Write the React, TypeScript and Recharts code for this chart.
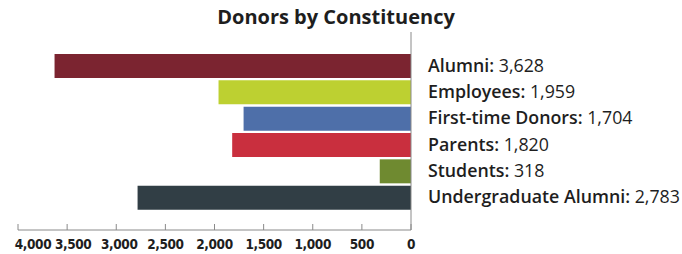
import { BarChart, Bar, XAxis, YAxis, Cell } from 'recharts';

const categories = ['Alumni', 'Employees', 'First-time Donors', 'Parents', 'Students', 'Undergraduate Alumni'];
const donors = [3628, 1959, 1704, 1820, 318, 2783];
const barColors = ['#7b2430', '#bdd031', '#4e6fa9', '#c92f3e', '#6f8a30', '#313e45'];
const xTicks = [0, 500, 1000, 1500, 2000, 2500, 3000, 3500, 4000];

const data = categories.map((name, i) => ({ name, value: donors[i] }));

const fmt = (v: number) => v.toLocaleString('en-US');

// Right-hand labels: bold name, plain value
const NameTick = ({ x, y, payload }: any) => {
    const v = donors[categories.indexOf(payload.value)];
    return (
        <text x={x + 17} y={y} dy={5.5} fontFamily="'Open Sans', sans-serif" fontSize={17.8} fill="#1e1e1e">
            <tspan fontWeight={600}>{payload.value}:</tspan>
            <tspan fontWeight={400}> {fmt(v)}</tspan>
        </text>
    );
};

// label nudges near the crowded left end
const labelShift: Record<number, number> = { 4000: 15, 3500: 6, 3000: 3 };

// Bottom ticks point up into the plot
const ValueTick = ({ x, y, payload }: any) => (
    <g>
        <line x1={x} x2={x} y1={y - 6} y2={y} stroke="#8a8a8a" />
        <text
            x={x + (labelShift[payload.value] || 0)}
            y={y + 19}
            textAnchor="middle"
            fontFamily="'DejaVu Sans Condensed', 'DejaVu Sans', sans-serif"
            fontWeight={700}
            fontSize={13.5}
            letterSpacing={-0.4}
            fill="#1e1e1e"
        >
            {fmt(payload.value)}
        </text>
    </g>
);

export default function App() {
    return (
        <div style={{ position: 'relative', width: 682, height: 254 }}>
            <style>{'body { margin: 0; }'}</style>
            <div style={{ position: 'absolute', left: -5, top: 3, width: 682, textAlign: 'center', fontFamily: "'Open Sans', sans-serif", fontWeight: 700, fontSize: 20, color: '#1e1e1e' }}>
                Donors by Constituency
            </div>
            <BarChart
                width={682}
                height={254}
                data={data}
                layout="vertical"
                margin={{ top: 32, right: 0, left: 18, bottom: 0 }}
                barSize={24}
            >
                {/*Value axis, reversed so bars grow left*/}
                <XAxis
                    type="number"
                    domain={[0, 4000]}
                    ticks={xTicks}
                    reversed
                    height={24}
                    stroke="#8a8a8a"
                    tickLine={false}
                    tickSize={0}
                    tickMargin={0}
                    tick={<ValueTick />}
                    interval={0}
                />

                {/*Constituency labels on the right*/}
                <YAxis
                    dataKey="name"
                    type="category"
                    orientation="right"
                    width={271}
                    stroke="#8a8a8a"
                    tickLine={false}
                    tickSize={0}
                    tickMargin={0}
                    tick={<NameTick />}
                    padding={{ top: 21, bottom: 19 }}
                    interval={0}
                />

                <Bar dataKey="value" isAnimationActive={false}>
                    {data.map((d, i) => (
                        <Cell key={d.name} fill={barColors[i]} />
                    ))}
                </Bar>
            </BarChart>
        </div>
    );
}
